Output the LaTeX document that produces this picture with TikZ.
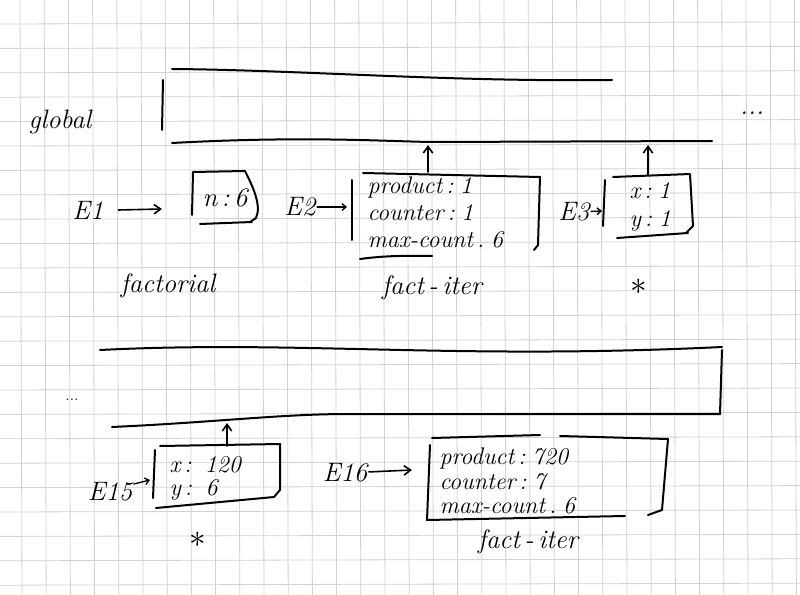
\documentclass[tikz,border=0pt]{standalone}
\usetikzlibrary{arrows.meta}
\begin{document}
\begin{tikzpicture}[x=0.75pt,y=-0.75pt,
  ink/.style={line width=1.5pt,line cap=round,line join=round},
  arrowink/.style={ink,line width=1.2pt,-{Straight Barb[length=5pt,width=7pt]}},
  smallarrow/.style={ink,line width=1pt,-{Straight Barb[length=3pt,width=5pt]}},
  hand/.style={font=\fontsize{18}{20}\selectfont\itshape,inner sep=1pt,anchor=west},
  tag/.style={font=\fontsize{20}{22}\selectfont\itshape,inner sep=1pt},
  starmark/.style={font=\fontsize{30}{30}\selectfont,inner sep=0pt},
  gridline/.style={gray!35,line width=0.6pt}]

% paper and grid
\useasboundingbox (0,0) rectangle (800,595);
\fill[white] (0,0) rectangle (800,595);
\foreach \i in {0,...,23} \draw[gridline] (0,24+24.4*\i) -- (800,22+24.4*\i);
\foreach \j in {0,...,32} \draw[gridline] (20+24.2*\j,0) -- (22+24.2*\j,595);

% ---------- global frame (top) ----------
\node[tag] (global) at (60,122) {global};
\draw[ink] (163,80) -- (162,130);
\draw[ink] (172,69) .. controls (300,70) and (450,82) .. (612,80);
\draw[ink] (172,143) .. controls (300,136) and (380,141) .. (430,142) -- (712,141);
\node[tag] (dotsA) at (752,113) {...};
\coordinate (gA) at (428,145);
\coordinate (gB) at (648,145);

% ---------- E1 : factorial ----------
\node[tag] (e1) at (88,210) {E1};
\coordinate (n6left) at (162,209);
\draw[arrowink] ([xshift=10pt]e1.east) -- (n6left);
\draw[ink] (192,215) -- (193,172) -- (245,171)
  .. controls (252,185) and (262,205) .. (256,218) -- (250,222);
\draw[ink] (200,224) -- (252,222);
\node[tag] (n6) at (225,198) {n\,:\,6};
\node[tag] (fact) at (168,286) {factorial};

% ---------- E2 : fact-iter ----------
\node[tag] (e2) at (300,207) {E2};
\coordinate (e2bar) at (347,207);
\draw[smallarrow] (e2) -- (e2bar);
\draw[ink] (352,180) -- (352,240);
\draw[ink] (363,173) -- (540,177) -- (538,245) -- (534,250);
\draw[ink] (360,259) .. controls (390,255) and (410,256) .. (432,256);
\node[hand] (e2p) at (366,188) {product\,:\;1};
\node[hand] (e2c) at (366,213) {counter\,:\;1};
\node[hand] (e2m) at (366,240) {max-count\,.\;6};
\coordinate (e2top) at (428,172);
\draw[arrowink] (e2top) -- (gA);
\node[tag] (factiter) at (432,288) {fact\,-\,iter};

% ---------- E3 : * ----------
\node[tag] (e3) at (574,212) {E3};
\coordinate (e3bar) at (602,211);
\draw[smallarrow] (e3) -- (e3bar);
\draw[ink] (605,180) -- (603,226);
\draw[ink] (613,177) -- (690,174) -- (693,226) -- (686,233);
\draw[ink] (617,238) -- (688,233);
\node[hand] (e3x) at (628,191) {x\,:\;1};
\node[hand] (e3y) at (628,221) {y\,:\;1};
\coordinate (e3top) at (648,175);
\draw[arrowink] (e3top) -- (gB);
\node[starmark] (star1) at (639,287) {$\ast$};

% ---------- lower frame ----------
\draw[ink] (100,350) .. controls (300,340) and (450,360) .. (722,347);
\draw[ink] (722,350) -- (720,414);
\draw[ink] (112,427) .. controls (220,422) and (280,414) .. (350,414) -- (720,414);
\node[tag,font=\fontsize{12}{14}\selectfont] (dotsB) at (72,400) {...};
\coordinate (gC) at (227,423);

% ---------- E15 : * ----------
\node[tag] (e15) at (110,492) {E15};
\coordinate (e15bar) at (150,480);
\draw[smallarrow] ([yshift=6pt]e15.east) -- (e15bar);
\draw[ink] (155,450) -- (153,498);
\draw[ink] (160,446) -- (280,444) -- (280,490) -- (274,497);
\draw[ink] (156,508) -- (274,497);
\node[hand] (e15x) at (168,465) {x\,:\;\;120};
\node[hand] (e15y) at (168,490) {y\,:\;\;6};
\coordinate (e15top) at (227,446);
\draw[arrowink] (e15top) -- (gC);
\node[starmark] (star2) at (198,540) {$\ast$};

% ---------- E16 : fact-iter ----------
\node[tag] (e16) at (345,473) {E16};
\coordinate (e16bar) at (412,470);
\draw[arrowink] (e16) -- (e16bar);
\draw[ink] (432,438) -- (540,435);
\draw[ink] (560,436) -- (668,439) -- (662,510) -- (648,515);
\draw[ink] (430,445) -- (427,520) -- (625,516);
\node[hand] (e16p) at (438,458) {product\,:\;720};
\node[hand] (e16c) at (438,482) {counter\,:\;7};
\node[hand] (e16m) at (438,506) {max-count\,.\;6};
\node[tag] (factiter2) at (528,542) {fact\,-\,iter};

\end{tikzpicture}
\end{document}
